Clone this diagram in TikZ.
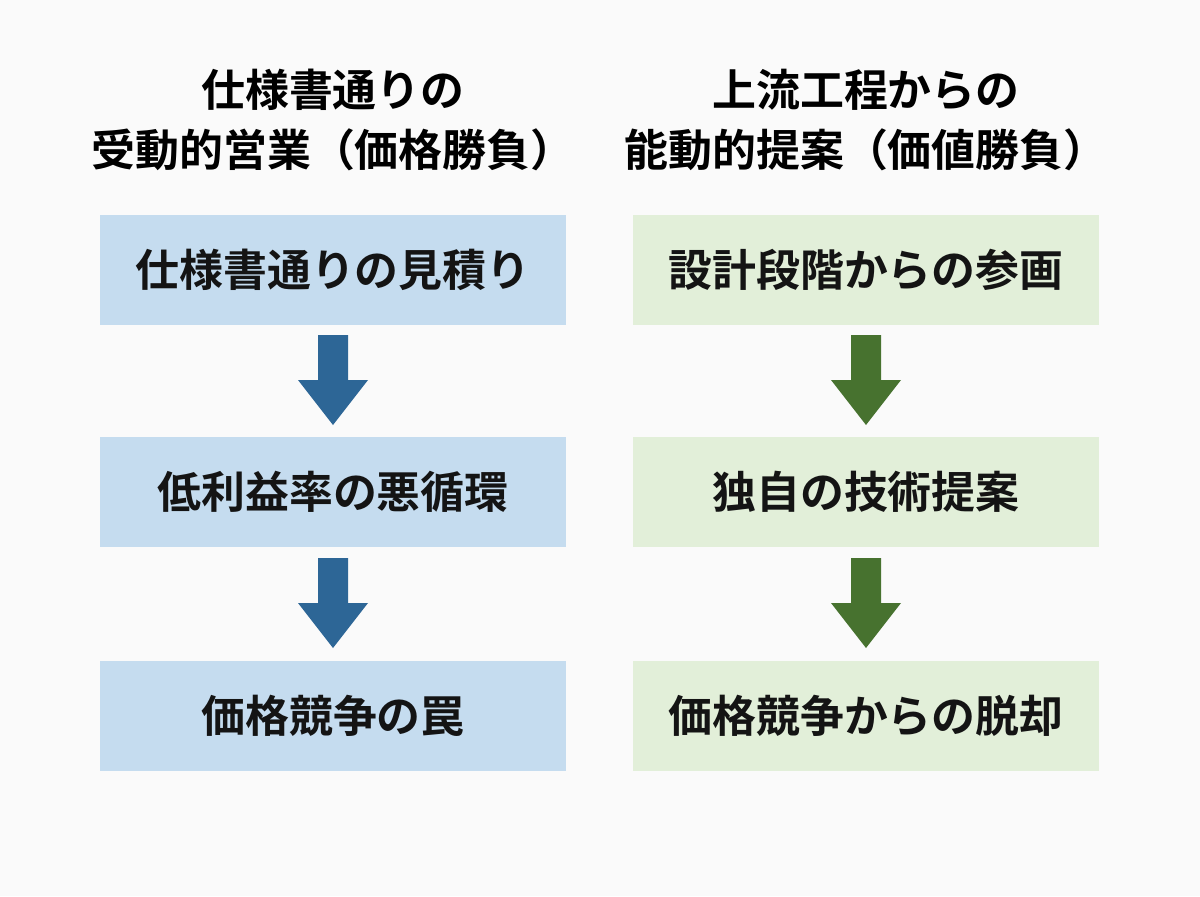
\documentclass[tikz,border=0pt]{standalone}
\usepackage{fontspec}
\newfontfamily\cjk{Noto Sans CJK JP}[BoldFont={* Bold}]
\begin{document}
\begin{tikzpicture}[x=0.02cm,y=-0.02cm,
  box/.style={draw=none,minimum width=9.32cm,minimum height=2.2cm,font=\cjk\bfseries\fontsize{25}{30}\selectfont,text=black!92},
  lbox/.style={box,fill=blueF},
  rbox/.style={box,fill=greenF},
  ttl/.style={font=\cjk\bfseries\fontsize{25}{34}\selectfont,align=center,text=black}]
\definecolor{blueF}{HTML}{C5DCEF}
\definecolor{greenF}{HTML}{E2EFD9}
\definecolor{blueA}{HTML}{2D6696}
\definecolor{greenA}{HTML}{47722F}
\fill[black!2] (0,0) rectangle (1200,896);
\useasboundingbox (0,0) rectangle (1200,896);
\node[ttl] (tl) at (333,120) {仕様書通りの\\受動的営業（価格勝負）};
\node[ttl] (tr) at (866,120) {上流工程からの\\能動的提案（価値勝負）};
\node[lbox] (l1) at (333,270) {仕様書通りの見積り};
\node[lbox] (l2) at (333,492) {低利益率の悪循環};
\node[lbox] (l3) at (333,716) {価格競争の罠};
\node[rbox] (r1) at (866,270) {設計段階からの参画};
\node[rbox] (r2) at (866,492) {独自の技術提案};
\node[rbox] (r3) at (866,716) {価格競争からの脱却};
\foreach \x/\c in {333/blueA,866/greenA}{
 \foreach \y in {335,558}{
  \fill[\c] (\x-15,\y) -- (\x+15,\y) -- (\x+15,\y+45) -- (\x+35,\y+45) -- (\x,\y+90) -- (\x-35,\y+45) -- (\x-15,\y+45) -- cycle;
 }}
\end{tikzpicture}
\end{document}
